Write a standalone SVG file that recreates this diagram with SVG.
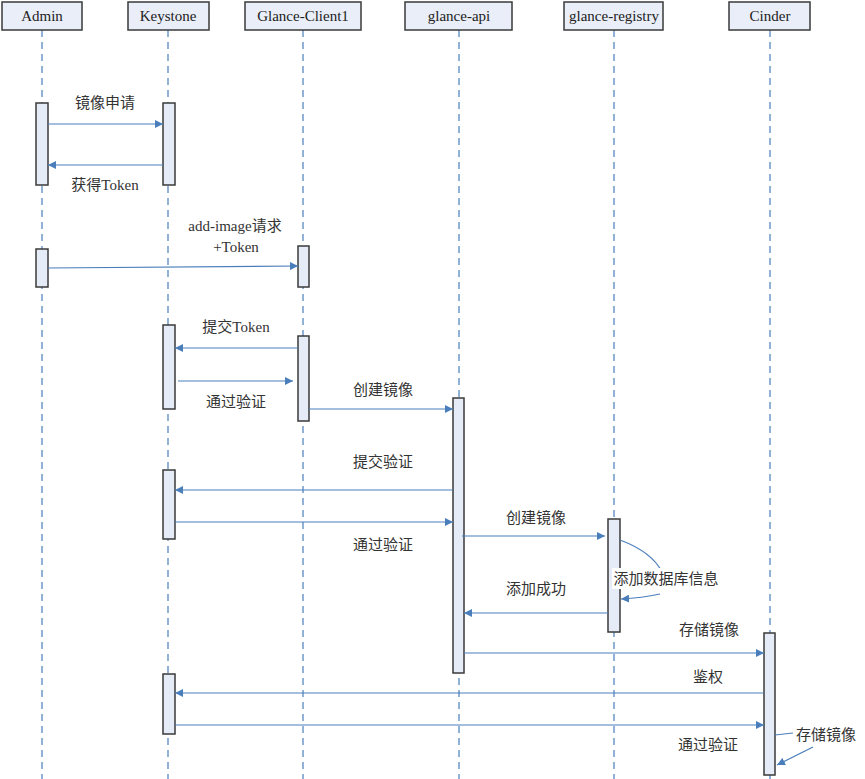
<svg xmlns="http://www.w3.org/2000/svg" width="865" height="779" viewBox="0 0 865 779">
<defs>
<marker id="ah" viewBox="0 0 10 10" refX="10" refY="5" markerWidth="8" markerHeight="8" markerUnits="userSpaceOnUse" orient="auto"><path d="M0,0 L10,5 L0,10 z" fill="#4a7ebb"/></marker>
<style>
.hd{fill:#e9eef8;stroke:#3a3a3a;stroke-width:1.5}
.ll{stroke:#4a7ebb;stroke-width:1.2;stroke-dasharray:7,5;fill:none}
.act{fill:#e6ecf7;stroke:#3a3a3a;stroke-width:1.5}
.msg{stroke:#4a7ebb;stroke-width:1.2;fill:none;marker-end:url(#ah)}
.t{font-family:"Liberation Serif","Noto Sans CJK SC",serif;font-size:15px;fill:#222;text-anchor:middle}
.lb{font-family:"Liberation Serif","Noto Sans CJK SC",serif;font-size:15px;fill:#333;text-anchor:middle}
</style>
</defs>
<rect width="865" height="779" fill="#fff"/>
<g id="lifelines">
<line class="ll" x1="42" y1="30" x2="42" y2="779"/>
<line class="ll" x1="168" y1="30" x2="168" y2="779"/>
<line class="ll" x1="303" y1="30" x2="303" y2="779"/>
<line class="ll" x1="459" y1="30" x2="459" y2="779"/>
<line class="ll" x1="614" y1="30" x2="614" y2="779"/>
<line class="ll" x1="770" y1="30" x2="770" y2="779"/>
</g>
<g id="admin"><rect class="hd" x="2" y="2" width="80" height="28"/><text class="t" x="42" y="21">Admin</text></g>
<g id="keystone"><rect class="hd" x="128" y="2" width="81" height="28"/><text class="t" x="168" y="21">Keystone</text></g>
<g id="glance-client1"><rect class="hd" x="245" y="2" width="116" height="28"/><text class="t" x="303" y="21">Glance-Client1</text></g>
<g id="glance-api"><rect class="hd" x="405" y="2" width="107" height="28"/><text class="t" x="459" y="21">glance-api</text></g>
<g id="glance-registry"><rect class="hd" x="564" y="2" width="99" height="28"/><text class="t" x="614" y="21">glance-registry</text></g>
<g id="cinder"><rect class="hd" x="729" y="2" width="81" height="28"/><text class="t" x="770" y="21">Cinder</text></g>
<g id="activations">
<rect class="act" x="36" y="103" width="12" height="82"/>
<rect class="act" x="163" y="103" width="12" height="82"/>
<rect class="act" x="36" y="249" width="12" height="38"/>
<rect class="act" x="298" y="246" width="11" height="41"/>
<rect class="act" x="163" y="325" width="12" height="84"/>
<rect class="act" x="298" y="336" width="11" height="85"/>
<rect class="act" x="453" y="398" width="11" height="275"/>
<rect class="act" x="163" y="470" width="12" height="69"/>
<rect class="act" x="608" y="519" width="12" height="113"/>
<rect class="act" x="764" y="633" width="11" height="142"/>
<rect class="act" x="163" y="674" width="12" height="60"/>
</g>
<g id="connectors">
<line class="msg" x1="48" y1="124" x2="163" y2="124"/>
<line class="msg" x1="163" y1="165" x2="48" y2="165"/>
<line class="msg" x1="48" y1="268" x2="298" y2="266"/>
<line class="msg" x1="298" y1="348" x2="175" y2="348"/>
<line class="msg" x1="178" y1="381" x2="293" y2="381"/>
<line class="msg" x1="309" y1="409" x2="453" y2="409"/>
<line class="msg" x1="453" y1="490" x2="175" y2="490"/>
<line class="msg" x1="175" y1="522" x2="453" y2="522"/>
<line class="msg" x1="462" y1="536" x2="605" y2="536"/>
<path class="msg" d="M620,540 Q652,552 662,572 M660,594 Q642,598 621,599"/>
<line class="msg" x1="608" y1="613" x2="464" y2="613"/>
<line class="msg" x1="464" y1="653" x2="764" y2="653"/>
<line class="msg" x1="764" y1="693" x2="175" y2="693"/>
<line class="msg" x1="175" y1="725" x2="764" y2="725"/>
<line style="stroke:#4a7ebb;stroke-width:1.2" x1="775" y1="735" x2="793" y2="733"/>
<line class="msg" x1="813" y1="747" x2="777" y2="765"/>
</g>
<g id="labels">
<text class="lb" x="105" y="108">镜像申请</text>
<text class="lb" x="105" y="190">获得Token</text>
<text class="lb" x="235" y="231">add-image请求</text>
<text class="lb" x="236" y="252">+Token</text>
<text class="lb" x="236" y="332">提交Token</text>
<text class="lb" x="236" y="407">通过验证</text>
<text class="lb" x="383" y="395">创建镜像</text>
<text class="lb" x="383" y="467">提交验证</text>
<text class="lb" x="383" y="550">通过验证</text>
<text class="lb" x="536" y="523">创建镜像</text>
<rect x="612" y="568" width="108" height="21" fill="#fff"/>
<text class="lb" x="666" y="584">添加数据库信息</text>
<text class="lb" x="536" y="594">添加成功</text>
<text class="lb" x="709" y="635">存储镜像</text>
<text class="lb" x="708" y="682">鉴权</text>
<text class="lb" x="708" y="750">通过验证</text>
<text class="lb" x="826" y="740">存储镜像</text>
</g>
</svg>
